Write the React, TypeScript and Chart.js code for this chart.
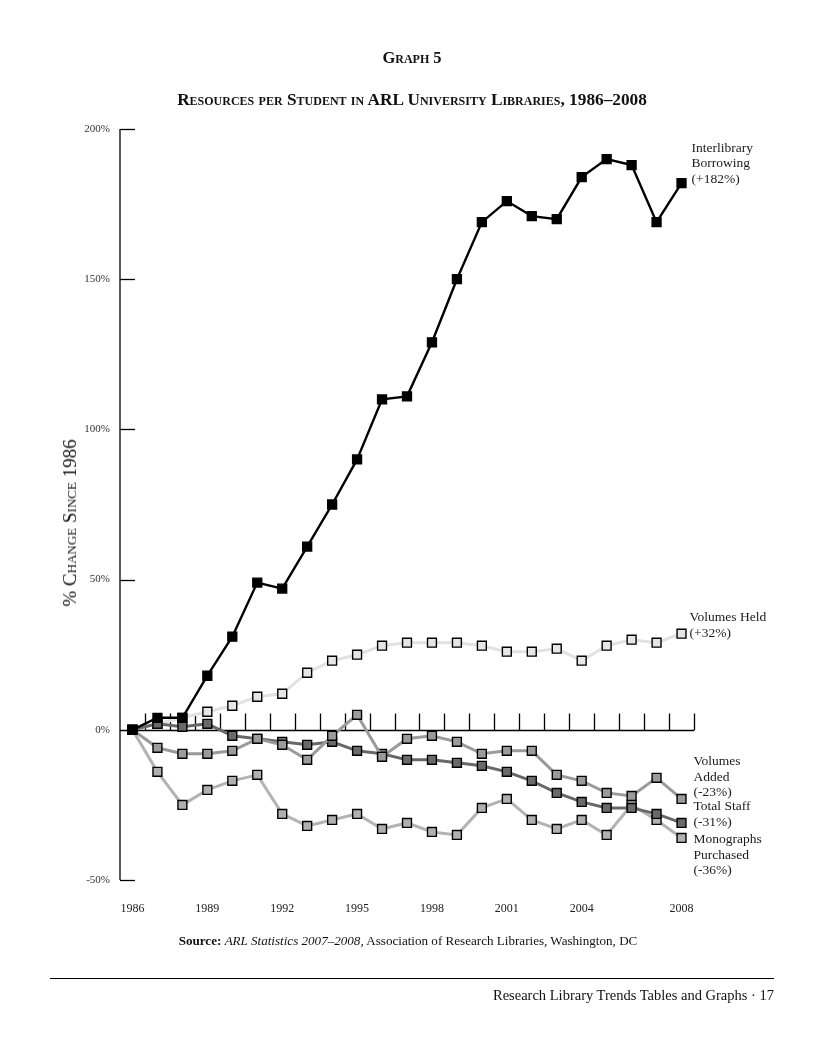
import React, { useEffect, useRef } from "react";
import { Chart, registerables } from "chart.js";

Chart.register(...registerables);

const years = [
  "1986", "1987", "1988", "1989", "1990", "1991", "1992", "1993", "1994", "1995", "1996", "1997",
  "1998", "1999", "2000", "2001", "2002", "2003", "2004", "2005", "2006", "2007", "2008",
];
const xTickLabels = ["1986", "1989", "1992", "1995", "1998", "2001", "2004", "2008"];
const yTickValues = [-50, 0, 50, 100, 150, 200];

const interlibraryBorrowing = [0, 4, 4, 18, 31, 49, 47, 61, 75, 90, 110, 111, 129, 150, 169, 176, 171, 170, 184, 190, 188, 169, 182];
const volumesHeld = [0, 2, 4, 6, 8, 11, 12, 19, 23, 25, 28, 29, 29, 29, 28, 26, 26, 27, 23, 28, 30, 29, 32];
const volumesAdded = [0, -6, -8, -8, -7, -3, -5, -10, -2, 5, -9, -3, -2, -4, -8, -7, -7, -15, -17, -21, -22, -16, -23];
const totalStaff = [0, 2, 1, 2, -2, -3, -4, -5, -4, -7, -8, -10, -10, -11, -12, -14, -17, -21, -24, -26, -26, -28, -31];
const monographsPurchased = [0, -14, -25, -20, -17, -15, -28, -32, -30, -28, -33, -31, -34, -35, -26, -23, -30, -33, -30, -35, -25, -30, -36];

const labelInterlibrary = ["Interlibrary", "Borrowing", "(+182%)"];
const labelVolumesHeld = ["Volumes Held", "(+32%)"];
const labelVolumesAdded = ["Volumes", "Added", "(-23%)"];
const labelTotalStaff = ["Total Staff", "(-31%)"];
const labelMonographs = ["Monographs", "Purchased", "(-36%)"];

const FONT = '"Liberation Serif", "DejaVu Serif", serif';

// label placement styles (dx from last point, dy of first line center from last point)
const labelPlacement: Record<string, { dx: number; dy: number }> = {
  interlibrary: { dx: 10, dy: -35 },
  held: { dx: 8, dy: -16 },
  added: { dx: 12, dy: -37 },
  staff: { dx: 12, dy: -16 },
  mono: { dx: 12, dy: 2 },
};

const axesPlugin = {
  id: "customAxes",
  beforeDatasetsDraw(chart: any) {
    const { ctx, chartArea, scales } = chart;
    const { left, right, top, bottom } = chartArea;
    const x = scales.x;
    const y = scales.y;
    ctx.save();
    ctx.strokeStyle = "#000";
    ctx.lineWidth = 1.3;
    ctx.lineCap = "butt";
    const line = (x1: number, y1: number, x2: number, y2: number) => {
      ctx.beginPath();
      ctx.moveTo(x1, y1);
      ctx.lineTo(x2, y2);
      ctx.stroke();
    };
    line(left, top, left, bottom);
    yTickValues.forEach((v) => {
      if (v === 0) return;
      const yy = Math.round(y.getPixelForValue(v)) + 0.5;
      line(left, yy, left + 15, yy);
    });
    const y0 = Math.round(y.getPixelForValue(0)) + 0.5;
    line(left, y0, right, y0);
    const step = x.getPixelForValue(1) - x.getPixelForValue(0);
    for (let i = 0; i < years.length; i++) {
      const xx = Math.round(x.getPixelForValue(i) + step / 2) + 0.5;
      line(xx, y0, xx, y0 - 17);
    }
    ctx.restore();
  },
};

const labelsPlugin = {
  id: "seriesLabels",
  afterDatasetsDraw(chart: any) {
    const { ctx } = chart;
    ctx.save();
    ctx.font = `13.5px ${FONT}`;
    ctx.fillStyle = "#1a1a1a";
    ctx.textBaseline = "middle";
    ctx.textAlign = "left";
    chart.data.datasets.forEach((ds: any, i: number) => {
      const meta = chart.getDatasetMeta(i);
      const pt = meta.data[meta.data.length - 1];
      const place = labelPlacement[ds.key];
      const lines: string[] = ds.seriesLabel;
      lines.forEach((t, j) => {
        ctx.fillText(t, pt.x + place.dx, pt.y + place.dy + j * 15.5);
      });
    });
    ctx.restore();
  },
};

export default function App() {
  const ref = useRef<HTMLCanvasElement>(null);

  useEffect(() => {
    const mk = (key: string, data: number[], line: string, fill: string, width: number, seriesLabel: string[]) => ({
      key,
      seriesLabel,
      data,
      borderColor: line,
      borderWidth: width,
      pointStyle: "rect",
      pointRadius: 6.3,
      pointBackgroundColor: fill,
      pointBorderColor: "#000",
      pointBorderWidth: 1.4,
      tension: 0,
      fill: false,
    });
    const chart = new Chart(ref.current!, {
      type: "line",
      data: {
        labels: years,
        datasets: [
          mk("interlibrary", interlibraryBorrowing, "#000000", "#000000", 2.4, labelInterlibrary),
          mk("added", volumesAdded, "#9a9a9a", "#9b9b9b", 3, labelVolumesAdded),
          mk("staff", totalStaff, "#686868", "#6a6a6a", 3, labelTotalStaff),
          mk("mono", monographsPurchased, "#b3b3b3", "#b0b0b0", 3, labelMonographs),
          mk("held", volumesHeld, "#e2e2e2", "#e6e6e6", 3, labelVolumesHeld),
        ] as any,
      },
      options: {
        responsive: false,
        maintainAspectRatio: false,
        animation: false,
        layout: { padding: { left: 60, top: 129, right: 130, bottom: 130 } },
        plugins: { legend: { display: false }, tooltip: { enabled: false } },
        scales: {
          x: {
            type: "category",
            offset: true,
            grid: { display: false, drawTicks: false },
            border: { display: false },
            ticks: {
              autoSkip: false,
              maxRotation: 0,
              padding: 22,
              color: "#222",
              font: { family: FONT, size: 12 },
              callback: (_v: any, i: number) => (xTickLabels.includes(years[i]) ? years[i] : ""),
            },
            afterFit: (s: any) => {
              s.height = 40;
            },
          },
          y: {
            min: -50,
            max: 200,
            grid: { display: false, drawTicks: false },
            border: { display: false },
            ticks: {
              stepSize: 50,
              padding: 10,
              color: "#333",
              font: { family: FONT, size: 11 },
              callback: (v: any) => `${v}%`,
            },
            afterFit: (s: any) => {
              s.width = 60;
            },
          },
        },
      } as any,
      plugins: [axesPlugin, labelsPlugin],
    });
    return () => chart.destroy();
  }, []);

  const abs: React.CSSProperties = { position: "absolute", whiteSpace: "nowrap" };

  return (
    <div
      style={{
        position: "absolute",
        left: 0,
        top: 0,
        width: 824,
        height: 1050,
        background: "#fff",
        fontFamily: FONT,
        color: "#111",
        overflow: "hidden",
      }}
    >
      <canvas ref={ref} width={824} height={1050} style={{ position: "absolute", left: 0, top: 0, width: 824, height: 1050 }} />
      <div style={{ ...abs, left: 0, width: 824, top: 48, lineHeight: "20px", textAlign: "center", fontWeight: "bold", fontVariant: "small-caps", fontSize: 16.5 }}>
        Graph 5
      </div>
      <div style={{ ...abs, left: 0, width: 824, top: 90, lineHeight: "20px", textAlign: "center", fontWeight: "bold", fontVariant: "small-caps", fontSize: 17.3 }}>
        Resources per Student in ARL University Libraries, 1986–2008
      </div>
      <div
        style={{
          ...abs,
          left: 70,
          top: 523,
          lineHeight: "20px",
          fontSize: 19,
          fontVariant: "small-caps",
          transform: "translate(-50%, -50%) rotate(-90deg)",
        }}
      >
        % Change Since 1986
      </div>
      <div style={{ ...abs, left: 0, width: 816, top: 932, lineHeight: "18px", textAlign: "center", fontSize: 13.1 }}>
        <b>Source:</b> <i>ARL Statistics 2007–2008,</i> Association of Research Libraries, Washington, DC
      </div>
      <div style={{ position: "absolute", left: 50, top: 978, width: 724, height: 0, borderTop: "1px solid #000" }} />
      <div style={{ ...abs, right: 50, top: 985, lineHeight: "20px", fontSize: 14.5, textAlign: "right" }}>
        Research Library Trends Tables and Graphs · 17
      </div>
    </div>
  );
}
